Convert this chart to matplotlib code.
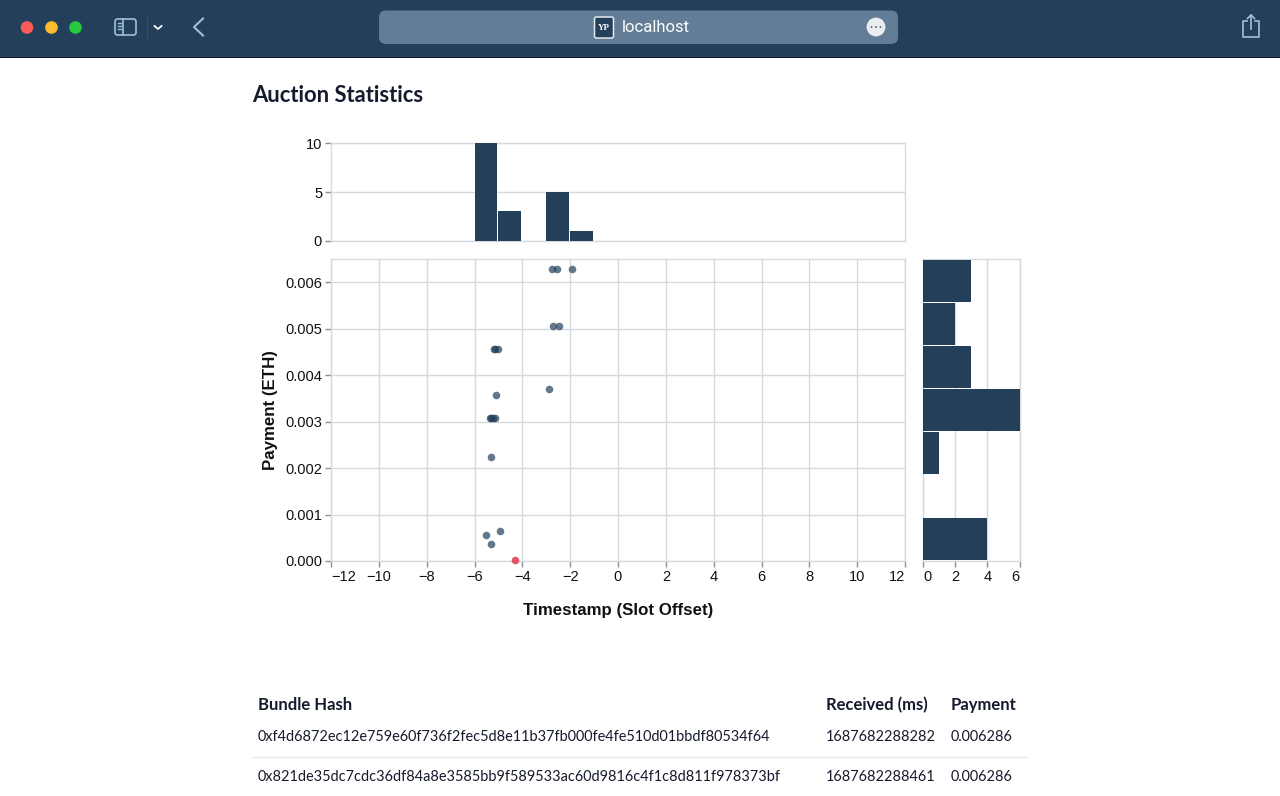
#Auction statistics page in a browser window
import matplotlib
matplotlib.use("Agg")
import matplotlib.pyplot as plt
from matplotlib.patches import Circle, FancyBboxPatch, Rectangle

#Data
bundle_x = [-2.76, -2.56, -1.91, -2.70, -2.48, -5.18, -5.14, -5.03, -5.09, -2.88,
            -5.35, -5.29, -5.23, -5.14, -5.31, -5.52, -4.95, -5.31]
bundle_y = [0.006286, 0.006286, 0.006286, 0.00505, 0.00505, 0.00456, 0.00456, 0.00456, 0.00358, 0.00371,
            0.00308, 0.00308, 0.00308, 0.00308, 0.00224, 0.00056, 0.00065, 0.00037]
winner_x = [-4.32]
winner_y = [0.00002]

time_bins = [-6, -5, -3, -2]
time_counts = [10, 3, 5, 1]
pay_bin_width = 0.000925
pay_bins = [0, 0.000925, 0.00185, 0.002775, 0.0037, 0.004625, 0.00555]
pay_counts = [4, 0, 1, 6, 3, 2, 3]

x_ticks = [-12, -10, -8, -6, -4, -2, 0, 2, 4, 6, 8, 10, 12]
y_ticks = [0, 0.001, 0.002, 0.003, 0.004, 0.005, 0.006]
top_ticks = [0, 5, 10]
side_ticks = [0, 2, 4, 6]

table_head = ["Bundle Hash", "Received (ms)", "Payment"]
table_hash = ["0xf4d6872ec12e759e60f736f2fec5d8e11b37fb000fe4fe510d01bbdf80534f64",
              "0x821de35dc7cdc36df84a8e3585bb9f589533ac60d9816c4f1c8d811f978373bf"]
table_time = ["1687682288282", "1687682288461"]
table_pay = ["0.006286", "0.006286"]

#Colours
NAVY = "#233f5a"
GRID = "#d6d9de"
TICK = "#8a8d92"
INK = "#151b2c"

W, H = 1280, 796
plt.rcParams["font.family"] = "Liberation Sans"
fig = plt.figure(figsize=(W / 100, H / 100), dpi=100, facecolor="white")


def px_axes(left, top, right, bottom):
    #axes placed by pixel box
    ax = fig.add_axes([left / W, 1 - bottom / H, (right - left) / W, (bottom - top) / H])
    for s in ax.spines.values():
        s.set_color(GRID)
        s.set_linewidth(1)
    ax.set_axisbelow(True)
    ax.tick_params(colors=TICK, labelcolor="#111111", length=4, width=1, labelsize=10.5, pad=2.4)
    return ax


def flush_ends(ax):
    #first and last x labels sit inside the plot
    labels = ax.get_xticklabels()
    labels[0].set_ha("left")
    labels[-1].set_ha("right")


#Main scatter
ax = px_axes(331, 258.8, 905, 561)
ax.set_xlim(-12, 12)
ax.set_ylim(0, 0.0065)
ax.set_xticks(x_ticks)
ax.set_yticks(y_ticks)
ax.set_yticklabels(["%.3f" % v for v in y_ticks])
flush_ends(ax)
ax.grid(True, color=GRID, linewidth=1)
ax.scatter(bundle_x, bundle_y, s=30, color=NAVY, alpha=0.7, linewidths=0, clip_on=False, zorder=3)
ax.scatter(winner_x, winner_y, s=30, color="#d62f3a", alpha=0.8, linewidths=0, clip_on=False, zorder=3)
ax.set_xlabel("Timestamp (Slot Offset)", fontsize=12.2, fontweight="bold", labelpad=13.5, color="#111111")
ax.set_ylabel("Payment (ETH)", fontsize=12.2, fontweight="bold", labelpad=5, color="#111111")

#Top histogram
top = px_axes(331, 143.5, 905, 240.5)
top.set_xlim(-12, 12)
top.set_ylim(0, 10)
top.set_yticks(top_ticks)
top.set_xticks([])
top.grid(True, axis="y", color=GRID, linewidth=1)
top.bar(time_bins, time_counts, width=0.95, align="edge", color=NAVY, zorder=3)

#Side histogram
side = px_axes(923, 258.8, 1020, 561)
side.set_xlim(0, 6.03)
side.set_ylim(0, 0.0065)
side.set_xticks(side_ticks)
side.set_yticks([])
flush_ends(side)
side.grid(True, axis="x", color=GRID, linewidth=1)
side.barh([b + pay_bin_width * 0.03 for b in pay_bins], pay_counts, height=pay_bin_width * 0.97,
          align="edge", color=NAVY, zorder=3)

#Page overlay, pixel coordinates
page = fig.add_axes([0, 0, 1, 1], zorder=5)
page.set_xlim(0, W)
page.set_ylim(H, 0)
page.axis("off")
page.patch.set_alpha(0)

page.add_patch(Rectangle((0, 0), W, 57, color=NAVY, lw=0))
page.add_patch(Rectangle((0, 57), W, 1, color="#10182a", lw=0))
for cx, c in [(27, "#fc5b57"), (51.5, "#fdbb2e"), (75.5, "#28c840")]:
    page.add_patch(Circle((cx, 27.5), 6.3, color=c, lw=0))

#sidebar icon
page.add_patch(FancyBboxPatch((115, 19), 21, 16, boxstyle="round,pad=0,rounding_size=2.5",
                              fc="none", ec="#9fc0dc", lw=1.2))
page.plot([122.5, 122.5], [19, 35], color="#9fc0dc", lw=1.2)
for yy in [23, 26, 29]:
    page.plot([117.5, 120.5], [yy, yy], color="#9fc0dc", lw=1)
page.plot([146.5, 146.5], [17, 38], color="#35506b", lw=0.8)
page.plot([154.5, 158, 161.5], [26, 29, 26], color="white", lw=1.3)
page.plot([203, 194, 203], [18.5, 27, 35.5], color="#9fc0dc", lw=1.5)

#address bar
page.add_patch(FancyBboxPatch((379, 10.5), 519, 33.5, boxstyle="round,pad=0,rounding_size=7",
                              fc="#647d96", lw=0))
page.add_patch(FancyBboxPatch((594.5, 17), 19, 21, boxstyle="round,pad=0,rounding_size=2",
                              fc=NAVY, ec="#e4e9ee", lw=1.1))
page.text(604, 28, "YP", fontsize=6.5, fontweight="bold", color="white", ha="center", va="center",
          family="Liberation Serif")
page.text(622, 28, "localhost", fontsize=12, color="white", ha="left", va="center", family="Roboto")
page.add_patch(Circle((876, 27), 9.4, color="#e9edf0", lw=0))
for cx in [871.5, 876, 880.5]:
    page.add_patch(Circle((cx, 27), 1, color="#5a7085", lw=0))

#share icon
page.plot([1247, 1243, 1243, 1259, 1259, 1255], [21, 21, 37, 37, 21, 21], color="#9fc0dc", lw=1.2)
page.plot([1251, 1251], [15, 29], color="#9fc0dc", lw=1.2)
page.plot([1247.5, 1251, 1254.5], [18.5, 15, 18.5], color="#9fc0dc", lw=1.2)

page.text(252.5, 95, "Auction Statistics", fontsize=15.8, fontweight="bold", color=INK,
          ha="left", va="center", family="Lato")

#Table
head_x = [258, 826, 951]
for x, label in zip(head_x, table_head):
    page.text(x, 705, label, fontsize=12, fontweight="bold", color=INK, ha="left", va="center", family="Lato")
row_y = [737, 777]
for i in range(len(row_y)):
    page.text(257.5, row_y[i], table_hash[i], fontsize=10.45, color=INK, ha="left", va="center", family="Lato")
    page.text(826, row_y[i], table_time[i], fontsize=10.45, color=INK, ha="left", va="center", family="Lato")
    page.text(950.5, row_y[i], table_pay[i], fontsize=10.45, color=INK, ha="left", va="center", family="Lato")
page.plot([253, 1027], [757, 757], color="#e6e7ea", lw=1)

fig.savefig("out.png", dpi=100)
